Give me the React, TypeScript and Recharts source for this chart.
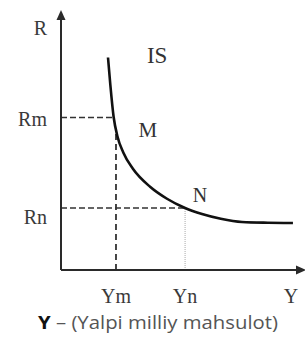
import { Line, LineChart, ReferenceDot, ReferenceLine, XAxis, YAxis } from "recharts";

// IS curve (x: output Y, y: interest rate R, both 0..100)
const curveX = [20.0, 21.0, 22.4, 24.0, 26.5, 30.6, 37.9, 45.1, 52.8, 60.0, 68.0, 77.0, 88.0, 98.7];
const curveY = [85.0, 74.0, 61.2, 53.5, 47.0, 40.5, 33.3, 28.5, 24.8, 22.4, 20.5, 19.2, 18.9, 18.8];

const Rm = 61;
const Rn = 24.8;
const Ym = 23.4;
const Yn = 52.8;
const Mx = 22.4; // where the Rm line meets the curve
const MyOnYm = 55; // where the Ym line meets the curve

const xTicks = [Ym, Yn, 98.3];
const xTickLabels = ["Ym", "Yn", "Y"];
const yTicks = [Rn, Rm, 96.8];
const yTickLabels = ["Rn", "Rm", "R"];

const pointLabels = [
  { x: 40.9, y: 86, text: "IS", size: 23 },
  { x: 37, y: 56, text: "M", size: 21 },
  { x: 59.1, y: 30, text: "N", size: 20 },
];

const data = curveX.map((x, i) => ({ x, y: curveY[i] }));

const serif = "'Liberation Serif', 'DejaVu Serif', serif";
const ink = "#2a2a2a";

function YTick({ x, y, payload }: any) {
  const i = yTicks.indexOf(payload.value);
  const dy = payload.value === Rn ? 9 : payload.value === Rm ? 1 : 0;
  return (
    <text x={x} y={y + dy} dy="0.35em" textAnchor="end" fontFamily={serif} fontSize={20} fill="#3a3a3a">
      {yTickLabels[i]}
    </text>
  );
}

function XTick({ x, y, payload }: any) {
  const i = xTicks.indexOf(payload.value);
  return (
    <text x={x} y={y} dy="0.71em" textAnchor="middle" fontFamily={serif} fontSize={20} fill="#3a3a3a">
      {xTickLabels[i]}
    </text>
  );
}

function Caption() {
  return (
    <text x={158} y={329} textAnchor="middle" fontFamily="'Open Sans', 'DejaVu Sans', sans-serif" fontSize={18} fill="#555" textLength={240} lengthAdjust="spacingAndGlyphs">
      <tspan fontWeight="bold" fill="#111">Y</tspan>
      <tspan> – (Yalpi milliy mahsulot)</tspan>
    </text>
  );
}

function ArrowUp({ cx, cy }: any) {
  return <path d={`M${cx - 4.5},${cy} L${cx},${cy - 10} L${cx + 4.5},${cy} z`} fill={ink} />;
}

function ArrowRight({ cx, cy }: any) {
  return <path d={`M${cx},${cy - 4.5} L${cx + 10},${cy} L${cx},${cy + 4.5} z`} fill={ink} />;
}

export default function App() {
  return (
    <div style={{ position: "absolute", left: 0, top: 0, width: 305, height: 338, background: "#fff" }}>
      <LineChart width={305} height={338} data={data} margin={{ top: 20, right: 9, left: 0, bottom: 0 }}>
        <XAxis
          type="number"
          dataKey="x"
          domain={[0, 100]}
          ticks={xTicks}
          tick={<XTick />}
          tickLine={false}
          tickSize={0}
          tickMargin={19}
          height={68}
          axisLine={{ stroke: ink, strokeWidth: 2 }}
          label={{ content: () => <Caption /> }}
          allowDataOverflow
        />
        <YAxis
          type="number"
          domain={[0, 100]}
          ticks={yTicks}
          tick={<YTick />}
          tickLine={false}
          tickSize={0}
          tickMargin={14}
          width={61}
          axisLine={{ stroke: ink, strokeWidth: 2 }}
          allowDataOverflow
        />
        <ReferenceLine segment={[{ x: 0, y: Rm }, { x: Mx, y: Rm }]} stroke="#333" strokeWidth={1.5} strokeDasharray="6 3" />
        <ReferenceLine segment={[{ x: Ym, y: 0 }, { x: Ym, y: MyOnYm }]} stroke="#333" strokeWidth={1.8} strokeDasharray="6 4" />
        <ReferenceLine segment={[{ x: 0, y: Rn }, { x: Yn, y: Rn }]} stroke="#333" strokeWidth={1.5} strokeDasharray="6 3" />
        <ReferenceLine segment={[{ x: Yn, y: 0 }, { x: Yn, y: Rn }]} stroke="#aaa" strokeWidth={1} strokeDasharray="1 1" />
        <Line type="monotone" dataKey="y" stroke="#111" strokeWidth={2.6} dot={false} isAnimationActive={false} />
        <ReferenceDot x={0} y={100} r={0} shape={<ArrowUp />} ifOverflow="visible" />
        <ReferenceDot x={100} y={0} r={0} shape={<ArrowRight />} ifOverflow="visible" />
        {pointLabels.map((p) => (
          <ReferenceDot
            key={p.text}
            x={p.x}
            y={p.y}
            r={0}
            stroke="none"
            fill="none"
            label={{ value: p.text, position: "center", fontFamily: serif, fontSize: p.size, fill: "#333" }}
          />
        ))}
      </LineChart>
    </div>
  );
}
